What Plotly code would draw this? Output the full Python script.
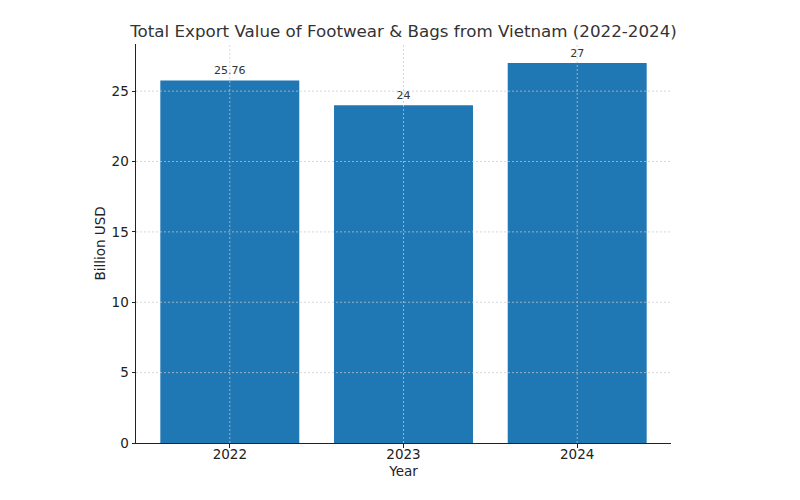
import plotly.graph_objects as go

# datos
anios = ['2022', '2023', '2024']
valores = [25.76, 24, 27]
etiquetas = ['25.76', '24', '27']
ticks_y = [0, 5, 10, 15, 20, 25]
y_max = 28.35

fig = go.Figure()
fig.add_trace(go.Bar(
    x=anios, y=valores,
    width=0.8,
    marker=dict(color='#1f77b4', line=dict(width=0)),
    text=etiquetas,
    textposition='outside',
    textfont=dict(family='DejaVu Sans', size=11, color='#333333'),
    cliponaxis=True,
))

# rejilla punteada encima de las barras (como en matplotlib), con trazas scatter
estilo_grid = dict(color='rgba(200,200,200,0.8)', width=0.9, dash='2px,2px')
for a in anios:
    fig.add_trace(go.Scatter(x=[a, a], y=[0, y_max], mode='lines', line=estilo_grid,
                             hoverinfo='skip', showlegend=False))
for t in ticks_y[1:]:
    fig.add_trace(go.Scatter(x=[0, 1], y=[t, t], mode='lines', line=estilo_grid,
                             xaxis='x2', hoverinfo='skip', showlegend=False))

fig.update_layout(
    width=792, height=492,
    paper_bgcolor='white', plot_bgcolor='white',
    margin=dict(l=128, r=129, t=36, b=57),
    font=dict(family='DejaVu Sans', color='#333333'),
    title=dict(text='Total Export Value of Footwear & Bags from Vietnam (2022-2024)',
               x=0.4994, xanchor='center', y=0.953, yanchor='middle',
               font=dict(size=16.7, color='#333333')),
    showlegend=False,
    xaxis=dict(
        type='category', range=[-0.54, 2.54],
        showline=True, linecolor='#222222', linewidth=1,
        ticks='outside', ticklen=3.5, tickcolor='#222222',
        showgrid=False,
        tickfont=dict(size=13.5, color='#222222'),
        ticklabelstandoff=-5,
        title=dict(text='Year', font=dict(size=13.5, color='#222222'), standoff=5),
        layer='above traces',
    ),
    xaxis2=dict(
        overlaying='x', range=[0, 1], visible=False, showgrid=False, zeroline=False,
    ),
    yaxis=dict(
        range=[0, y_max], tickvals=ticks_y,
        showline=True, linecolor='#222222', linewidth=1,
        ticks='outside', ticklen=3.5, tickcolor='#222222',
        showgrid=False,
        zeroline=False,
        tickfont=dict(size=13.5, color='#222222'),
        title=dict(text='Billion USD', font=dict(size=13.5, color='#222222'), standoff=2),
        layer='above traces',
    ),
)

fig.write_html("out.html")
